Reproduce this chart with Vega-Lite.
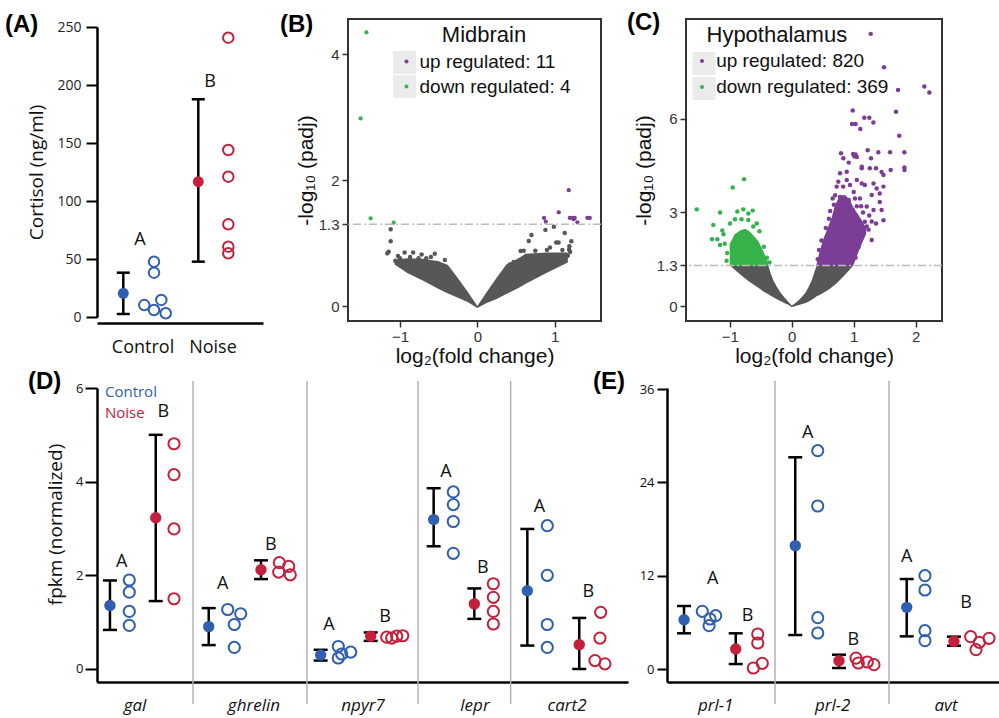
{
  "$schema": "https://vega.github.io/schema/vega-lite/v6.json",
  "background": "white",
  "padding": {"left": 5, "top": 10, "right": 0, "bottom": 0},
  "bounds": "flush",
  "spacing": 369,
  "config": {
    "view": {"stroke": null},
    "font": "Open Sans",
    "title": {"font": "Liberation Sans", "fontSize": 24, "fontWeight": "bold", "color": "#000", "anchor": "start", "frame": "group", "offset": 0, "baseline": "alphabetic"}
  },
  "datasets": {
    "a_stats": [
      {"group": "Control", "pos": 1.584, "mean": 20.4, "lo": 2.6, "hi": 38.2},
      {"group": "Noise", "pos": 6.102, "mean": 116.6, "lo": 47.7, "hi": 187.7}
    ],
    "a_samples": [
      {"group": "Control", "pos": 2.849, "val": 10.3},
      {"group": "Control", "pos": 3.434, "val": 47.7},
      {"group": "Control", "pos": 3.434, "val": 38.2},
      {"group": "Control", "pos": 3.434, "val": 6.0},
      {"group": "Control", "pos": 3.873, "val": 14.7},
      {"group": "Control", "pos": 4.139, "val": 3.2},
      {"group": "Noise", "pos": 7.91, "val": 240.8},
      {"group": "Noise", "pos": 7.91, "val": 144},
      {"group": "Noise", "pos": 7.91, "val": 121},
      {"group": "Noise", "pos": 7.91, "val": 79.9},
      {"group": "Noise", "pos": 7.91, "val": 60.6},
      {"group": "Noise", "pos": 7.91, "val": 54.9}
    ],
    "a_letters": [
      {"letter": "A", "pos": 2.59, "val": 66.4},
      {"letter": "B", "pos": 6.807, "val": 202.8}
    ],
    "thr": [{"nlp": 1.3}],
    "b_keys": [{"key": "up regulated: 11"}, {"key": "down regulated: 4"}],
    "c_keys": [{"key": "up regulated: 820"}, {"key": "down regulated: 369"}],
    "b_cloud": [
      {"lfc": -1.07, "hi": 0.74, "lo": 0.66},
      {"lfc": -0.9, "hi": 0.76, "lo": 0.52},
      {"lfc": -0.7, "hi": 0.75, "lo": 0.4},
      {"lfc": -0.5, "hi": 0.71, "lo": 0.27},
      {"lfc": -0.38, "hi": 0.65, "lo": 0.2},
      {"lfc": -0.25, "hi": 0.44, "lo": 0.13},
      {"lfc": -0.12, "hi": 0.22, "lo": 0.06},
      {"lfc": 0, "hi": 0.0, "lo": -0.03},
      {"lfc": 0.12, "hi": 0.22, "lo": 0.05},
      {"lfc": 0.25, "hi": 0.45, "lo": 0.11},
      {"lfc": 0.375, "hi": 0.66, "lo": 0.19},
      {"lfc": 0.55, "hi": 0.77, "lo": 0.3},
      {"lfc": 0.62, "hi": 0.83, "lo": 0.35},
      {"lfc": 0.9, "hi": 0.85, "lo": 0.53},
      {"lfc": 1.17, "hi": 0.85, "lo": 0.69}
    ],
    "b_ns": [
      {"lfc": -1.12, "nlp": 1.22}, {"lfc": -1.12, "nlp": 1.03}, {"lfc": -1.146, "nlp": 0.863}, {"lfc": -1.164, "nlp": 0.837},
      {"lfc": -1.026, "nlp": 0.795}, {"lfc": -0.94, "nlp": 0.85}, {"lfc": -0.83, "nlp": 0.85}, {"lfc": -0.72, "nlp": 0.82},
      {"lfc": -0.66, "nlp": 0.76}, {"lfc": -0.55, "nlp": 0.83}, {"lfc": -0.42, "nlp": 0.73}, {"lfc": -0.87, "nlp": 0.78},
      {"lfc": -0.76, "nlp": 0.76}, {"lfc": -1.0, "nlp": 0.76}, {"lfc": -0.6, "nlp": 0.78}, {"lfc": -1.06, "nlp": 0.72},
      {"lfc": 0.665, "nlp": 1.033}, {"lfc": 0.7, "nlp": 1.13}, {"lfc": 0.88, "nlp": 1.21}, {"lfc": 0.99, "nlp": 1.26},
      {"lfc": 1.13, "nlp": 1.16}, {"lfc": 1.02, "nlp": 1.01}, {"lfc": 1.05, "nlp": 1.01}, {"lfc": 1.215, "nlp": 1.03},
      {"lfc": 0.94, "nlp": 0.93}, {"lfc": 1.186, "nlp": 0.9}, {"lfc": 0.56, "nlp": 0.874}, {"lfc": 0.55, "nlp": 0.73},
      {"lfc": 1.19, "nlp": 0.95}, {"lfc": 0.6, "nlp": 0.88}, {"lfc": 0.75, "nlp": 0.88}, {"lfc": 0.9, "nlp": 0.89},
      {"lfc": 1.1, "nlp": 0.89}, {"lfc": 1.2, "nlp": 0.86}, {"lfc": 0.85, "nlp": 0.76}, {"lfc": 1.0, "nlp": 0.8},
      {"lfc": 0.47, "nlp": 0.7}, {"lfc": 0.42, "nlp": 0.66}, {"lfc": 1.17, "nlp": 0.8}, {"lfc": 1.08, "nlp": 0.74}
    ],
    "b_sig": [
      {"dir": "up regulated: 11", "lfc": 1.182, "nlp": 1.84},
      {"dir": "up regulated: 11", "lfc": 1.053, "nlp": 1.49},
      {"dir": "up regulated: 11", "lfc": 0.863, "nlp": 1.4},
      {"dir": "up regulated: 11", "lfc": 0.885, "nlp": 1.34},
      {"dir": "up regulated: 11", "lfc": 1.195, "nlp": 1.4},
      {"dir": "up regulated: 11", "lfc": 1.23, "nlp": 1.4},
      {"dir": "up regulated: 11", "lfc": 1.26, "nlp": 1.4},
      {"dir": "up regulated: 11", "lfc": 1.294, "nlp": 1.33},
      {"dir": "up regulated: 11", "lfc": 1.423, "nlp": 1.4},
      {"dir": "up regulated: 11", "lfc": 1.454, "nlp": 1.4},
      {"dir": "up regulated: 11", "lfc": 1.245, "nlp": 1.38},
      {"dir": "down regulated: 4", "lfc": -1.434, "nlp": 4.35},
      {"dir": "down regulated: 4", "lfc": -1.509, "nlp": 2.98},
      {"dir": "down regulated: 4", "lfc": -1.379, "nlp": 1.394},
      {"dir": "down regulated: 4", "lfc": -1.082, "nlp": 1.325}
    ],
    "c_cloud": [
      {"lfc": -0.995, "hi": 1.3, "lo": 1.3},
      {"lfc": -0.9, "hi": 1.3, "lo": 1.13},
      {"lfc": -0.8, "hi": 1.3, "lo": 0.96},
      {"lfc": -0.7, "hi": 1.3, "lo": 0.8},
      {"lfc": -0.55, "hi": 1.3, "lo": 0.6},
      {"lfc": -0.45, "hi": 1.3, "lo": 0.46},
      {"lfc": -0.377, "hi": 1.3, "lo": 0.38},
      {"lfc": -0.34, "hi": 1.05, "lo": 0.33},
      {"lfc": -0.297, "hi": 0.83, "lo": 0.28},
      {"lfc": -0.24, "hi": 0.62, "lo": 0.22},
      {"lfc": -0.19, "hi": 0.46, "lo": 0.17},
      {"lfc": -0.12, "hi": 0.28, "lo": 0.1},
      {"lfc": -0.055, "hi": 0.14, "lo": 0.04},
      {"lfc": 0, "hi": 0.02, "lo": -0.04},
      {"lfc": 0.06, "hi": 0.1, "lo": 0.0},
      {"lfc": 0.12, "hi": 0.2, "lo": 0.03},
      {"lfc": 0.18, "hi": 0.33, "lo": 0.07},
      {"lfc": 0.215, "hi": 0.41, "lo": 0.09},
      {"lfc": 0.27, "hi": 0.6, "lo": 0.14},
      {"lfc": 0.323, "hi": 0.83, "lo": 0.2},
      {"lfc": 0.36, "hi": 1.05, "lo": 0.25},
      {"lfc": 0.403, "hi": 1.3, "lo": 0.31},
      {"lfc": 0.457, "hi": 1.3, "lo": 0.36},
      {"lfc": 0.6, "hi": 1.3, "lo": 0.53},
      {"lfc": 0.726, "hi": 1.3, "lo": 0.73},
      {"lfc": 0.85, "hi": 1.3, "lo": 0.98},
      {"lfc": 0.994, "hi": 1.3, "lo": 1.3}
    ],
    "c_up_core": [
      {"lfc": 0.4, "hi": 1.34, "lo": 1.28},
      {"lfc": 0.45, "hi": 1.75, "lo": 1.28},
      {"lfc": 0.51, "hi": 2.15, "lo": 1.28},
      {"lfc": 0.58, "hi": 2.5, "lo": 1.28},
      {"lfc": 0.645, "hi": 2.85, "lo": 1.28},
      {"lfc": 0.7, "hi": 3.25, "lo": 1.28},
      {"lfc": 0.78, "hi": 3.55, "lo": 1.28},
      {"lfc": 0.87, "hi": 3.55, "lo": 1.28},
      {"lfc": 0.95, "hi": 3.35, "lo": 1.28},
      {"lfc": 0.994, "hi": 3.15, "lo": 1.3},
      {"lfc": 1.05, "hi": 3.0, "lo": 1.6},
      {"lfc": 1.13, "hi": 2.75, "lo": 2.0},
      {"lfc": 1.2, "hi": 2.5, "lo": 2.3}
    ],
    "c_down_core": [
      {"lfc": -1.0, "hi": 2.0, "lo": 1.28},
      {"lfc": -0.92, "hi": 2.3, "lo": 1.28},
      {"lfc": -0.834, "hi": 2.42, "lo": 1.28},
      {"lfc": -0.75, "hi": 2.48, "lo": 1.28},
      {"lfc": -0.672, "hi": 2.38, "lo": 1.28},
      {"lfc": -0.6, "hi": 2.22, "lo": 1.28},
      {"lfc": -0.538, "hi": 2.08, "lo": 1.28},
      {"lfc": -0.457, "hi": 1.76, "lo": 1.28},
      {"lfc": -0.377, "hi": 1.38, "lo": 1.28}
    ],
    "c_sig": [
      {"dir": "up regulated: 820", "lfc": 1.274, "nlp": 8.73},
      {"dir": "up regulated: 820", "lfc": 1.489, "nlp": 7.66},
      {"dir": "up regulated: 820", "lfc": 1.715, "nlp": 6.93},
      {"dir": "up regulated: 820", "lfc": 2.139, "nlp": 7.04},
      {"dir": "up regulated: 820", "lfc": 2.22, "nlp": 6.85},
      {"dir": "up regulated: 820", "lfc": 0.984, "nlp": 6.27},
      {"dir": "up regulated: 820", "lfc": 1.171, "nlp": 6.04},
      {"dir": "up regulated: 820", "lfc": 1.252, "nlp": 6.04},
      {"dir": "up regulated: 820", "lfc": 1.317, "nlp": 5.89},
      {"dir": "up regulated: 820", "lfc": 0.973, "nlp": 5.84},
      {"dir": "up regulated: 820", "lfc": 1.03, "nlp": 5.84},
      {"dir": "up regulated: 820", "lfc": 1.107, "nlp": 5.68},
      {"dir": "up regulated: 820", "lfc": 1.682, "nlp": 6.23},
      {"dir": "up regulated: 820", "lfc": 1.735, "nlp": 5.46},
      {"dir": "up regulated: 820", "lfc": 0.795, "nlp": 4.9},
      {"dir": "up regulated: 820", "lfc": 0.833, "nlp": 4.74},
      {"dir": "up regulated: 820", "lfc": 0.99, "nlp": 4.88},
      {"dir": "up regulated: 820", "lfc": 1.01, "nlp": 4.8},
      {"dir": "up regulated: 820", "lfc": 1.03, "nlp": 4.86},
      {"dir": "up regulated: 820", "lfc": 1.05, "nlp": 4.78},
      {"dir": "up regulated: 820", "lfc": 1.129, "nlp": 4.42},
      {"dir": "up regulated: 820", "lfc": 1.226, "nlp": 5.0},
      {"dir": "up regulated: 820", "lfc": 1.279, "nlp": 4.74},
      {"dir": "up regulated: 820", "lfc": 1.397, "nlp": 4.93},
      {"dir": "up regulated: 820", "lfc": 1.586, "nlp": 4.93},
      {"dir": "up regulated: 820", "lfc": 1.817, "nlp": 4.93},
      {"dir": "up regulated: 820", "lfc": 1.817, "nlp": 4.44},
      {"dir": "up regulated: 820", "lfc": 1.82, "nlp": 4.36},
      {"dir": "up regulated: 820", "lfc": 1.36, "nlp": 4.42},
      {"dir": "up regulated: 820", "lfc": 1.45, "nlp": 4.3},
      {"dir": "up regulated: 820", "lfc": 1.596, "nlp": 4.36},
      {"dir": "up regulated: 820", "lfc": 0.78, "nlp": 4.26},
      {"dir": "up regulated: 820", "lfc": 0.887, "nlp": 4.31},
      {"dir": "up regulated: 820", "lfc": 1.13, "nlp": 4.47},
      {"dir": "up regulated: 820", "lfc": 1.26, "nlp": 4.42},
      {"dir": "up regulated: 820", "lfc": 1.48, "nlp": 4.2},
      {"dir": "up regulated: 820", "lfc": 0.752, "nlp": 3.99},
      {"dir": "up regulated: 820", "lfc": 0.887, "nlp": 4.04},
      {"dir": "up regulated: 820", "lfc": 0.83, "nlp": 3.83},
      {"dir": "up regulated: 820", "lfc": 0.94, "nlp": 3.88},
      {"dir": "up regulated: 820", "lfc": 1.05, "nlp": 4.04},
      {"dir": "up regulated: 820", "lfc": 1.13, "nlp": 3.93},
      {"dir": "up regulated: 820", "lfc": 1.18, "nlp": 3.88},
      {"dir": "up regulated: 820", "lfc": 1.32, "nlp": 3.93},
      {"dir": "up regulated: 820", "lfc": 1.37, "nlp": 3.77},
      {"dir": "up regulated: 820", "lfc": 1.42, "nlp": 3.61},
      {"dir": "up regulated: 820", "lfc": 1.48, "nlp": 3.83},
      {"dir": "up regulated: 820", "lfc": 1.0, "nlp": 3.66},
      {"dir": "up regulated: 820", "lfc": 1.1, "nlp": 3.45},
      {"dir": "up regulated: 820", "lfc": 1.29, "nlp": 3.56},
      {"dir": "up regulated: 820", "lfc": 1.42, "nlp": 3.34},
      {"dir": "up regulated: 820", "lfc": 1.45, "nlp": 3.08},
      {"dir": "up regulated: 820", "lfc": 1.21, "nlp": 3.19},
      {"dir": "up regulated: 820", "lfc": 1.32, "nlp": 3.08},
      {"dir": "up regulated: 820", "lfc": 1.29, "nlp": 2.71},
      {"dir": "up regulated: 820", "lfc": 1.21, "nlp": 2.55},
      {"dir": "up regulated: 820", "lfc": 1.13, "nlp": 2.22},
      {"dir": "up regulated: 820", "lfc": 1.29, "nlp": 2.12},
      {"dir": "up regulated: 820", "lfc": 1.48, "nlp": 2.75},
      {"dir": "up regulated: 820", "lfc": 0.726, "nlp": 3.83},
      {"dir": "up regulated: 820", "lfc": 0.7, "nlp": 3.55},
      {"dir": "up regulated: 820", "lfc": 0.68, "nlp": 3.25},
      {"dir": "up regulated: 820", "lfc": 0.62, "nlp": 3.05},
      {"dir": "up regulated: 820", "lfc": 0.78, "nlp": 3.5},
      {"dir": "up regulated: 820", "lfc": 0.92, "nlp": 3.4},
      {"dir": "up regulated: 820", "lfc": 1.05, "nlp": 3.2},
      {"dir": "up regulated: 820", "lfc": 0.85, "nlp": 3.3},
      {"dir": "up regulated: 820", "lfc": 0.98, "nlp": 3.1},
      {"dir": "up regulated: 820", "lfc": 1.15, "nlp": 3.0},
      {"dir": "up regulated: 820", "lfc": 1.25, "nlp": 2.9},
      {"dir": "up regulated: 820", "lfc": 1.36, "nlp": 2.65},
      {"dir": "up regulated: 820", "lfc": 1.18, "nlp": 2.7},
      {"dir": "up regulated: 820", "lfc": 0.6, "nlp": 2.8},
      {"dir": "up regulated: 820", "lfc": 0.55, "nlp": 2.5},
      {"dir": "up regulated: 820", "lfc": 0.48, "nlp": 2.1},
      {"dir": "up regulated: 820", "lfc": 0.44, "nlp": 1.8},
      {"dir": "up regulated: 820", "lfc": 1.08, "nlp": 2.5},
      {"dir": "up regulated: 820", "lfc": 1.16, "nlp": 2.4},
      {"dir": "up regulated: 820", "lfc": 1.24, "nlp": 2.45},
      {"dir": "up regulated: 820", "lfc": 0.92, "nlp": 4.6},
      {"dir": "up regulated: 820", "lfc": 0.66, "nlp": 3.45},
      {"dir": "up regulated: 820", "lfc": 1.02, "nlp": 3.45},
      {"dir": "up regulated: 820", "lfc": 1.12, "nlp": 3.2},
      {"dir": "up regulated: 820", "lfc": 1.08, "nlp": 1.9},
      {"dir": "up regulated: 820", "lfc": 1.03, "nlp": 1.55},
      {"dir": "up regulated: 820", "lfc": 0.42, "nlp": 1.5},
      {"dir": "down regulated: 369", "lfc": -0.769, "nlp": 4.07},
      {"dir": "down regulated: 369", "lfc": -0.952, "nlp": 3.8},
      {"dir": "down regulated: 369", "lfc": -1.532, "nlp": 3.1},
      {"dir": "down regulated: 369", "lfc": -1.156, "nlp": 3.0},
      {"dir": "down regulated: 369", "lfc": -0.78, "nlp": 3.1},
      {"dir": "down regulated: 369", "lfc": -0.877, "nlp": 3.03},
      {"dir": "down regulated: 369", "lfc": -0.7, "nlp": 2.97},
      {"dir": "down regulated: 369", "lfc": -0.63, "nlp": 3.06},
      {"dir": "down regulated: 369", "lfc": -1.265, "nlp": 2.6},
      {"dir": "down regulated: 369", "lfc": -0.995, "nlp": 2.65},
      {"dir": "down regulated: 369", "lfc": -0.915, "nlp": 2.78},
      {"dir": "down regulated: 369", "lfc": -0.81, "nlp": 2.78},
      {"dir": "down regulated: 369", "lfc": -0.7, "nlp": 2.76},
      {"dir": "down regulated: 369", "lfc": -0.565, "nlp": 2.65},
      {"dir": "down regulated: 369", "lfc": -1.12, "nlp": 2.42},
      {"dir": "down regulated: 369", "lfc": -1.1, "nlp": 2.3},
      {"dir": "down regulated: 369", "lfc": -1.285, "nlp": 2.14},
      {"dir": "down regulated: 369", "lfc": -1.2, "nlp": 2.14},
      {"dir": "down regulated: 369", "lfc": -1.156, "nlp": 1.96},
      {"dir": "down regulated: 369", "lfc": -1.08, "nlp": 2.0},
      {"dir": "down regulated: 369", "lfc": -0.62, "nlp": 2.55},
      {"dir": "down regulated: 369", "lfc": -0.52, "nlp": 2.4},
      {"dir": "down regulated: 369", "lfc": -0.45, "nlp": 1.9},
      {"dir": "down regulated: 369", "lfc": -0.4, "nlp": 1.55},
      {"dir": "down regulated: 369", "lfc": -0.36, "nlp": 1.4},
      {"dir": "down regulated: 369", "lfc": -1.04, "nlp": 1.7},
      {"dir": "down regulated: 369", "lfc": -1.05, "nlp": 1.45}
    ],
    "d_stats": [
      {"gene": "gal", "group": "Control", "pos": 0.122, "mean": 1.354, "lo": 0.834, "hi": 1.89},
      {"gene": "gal", "group": "Noise", "pos": 0.553, "mean": 3.23, "lo": 1.45, "hi": 5.0},
      {"gene": "ghrelin", "group": "Control", "pos": 1.052, "mean": 0.905, "lo": 0.51, "hi": 1.3},
      {"gene": "ghrelin", "group": "Noise", "pos": 1.544, "mean": 2.12, "lo": 1.92, "hi": 2.32},
      {"gene": "npyr7", "group": "Control", "pos": 2.106, "mean": 0.3, "lo": 0.18, "hi": 0.41},
      {"gene": "npyr7", "group": "Noise", "pos": 2.577, "mean": 0.7, "lo": 0.6, "hi": 0.78},
      {"gene": "lepr", "group": "Control", "pos": 3.17, "mean": 3.19, "lo": 2.62, "hi": 3.86},
      {"gene": "lepr", "group": "Noise", "pos": 3.553, "mean": 1.39, "lo": 1.07, "hi": 1.72},
      {"gene": "cart2", "group": "Control", "pos": 4.052, "mean": 1.67, "lo": 0.5, "hi": 2.99},
      {"gene": "cart2", "group": "Noise", "pos": 4.541, "mean": 0.52, "lo": 0.0, "hi": 1.09}
    ],
    "d_samples": [
      {"gene": "gal", "group": "Control", "pos": 0.304, "val": 1.9},
      {"gene": "gal", "group": "Control", "pos": 0.304, "val": 1.64},
      {"gene": "gal", "group": "Control", "pos": 0.304, "val": 1.23},
      {"gene": "gal", "group": "Control", "pos": 0.304, "val": 0.93},
      {"gene": "gal", "group": "Noise", "pos": 0.725, "val": 4.81},
      {"gene": "gal", "group": "Noise", "pos": 0.725, "val": 4.15},
      {"gene": "gal", "group": "Noise", "pos": 0.725, "val": 2.99},
      {"gene": "gal", "group": "Noise", "pos": 0.725, "val": 1.5},
      {"gene": "ghrelin", "group": "Control", "pos": 1.231, "val": 1.27},
      {"gene": "ghrelin", "group": "Control", "pos": 1.353, "val": 1.18},
      {"gene": "ghrelin", "group": "Control", "pos": 1.293, "val": 0.95},
      {"gene": "ghrelin", "group": "Control", "pos": 1.293, "val": 0.46},
      {"gene": "ghrelin", "group": "Noise", "pos": 1.717, "val": 2.27},
      {"gene": "ghrelin", "group": "Noise", "pos": 1.805, "val": 2.19},
      {"gene": "ghrelin", "group": "Noise", "pos": 1.711, "val": 2.07},
      {"gene": "ghrelin", "group": "Noise", "pos": 1.82, "val": 2.01},
      {"gene": "npyr7", "group": "Control", "pos": 2.272, "val": 0.48},
      {"gene": "npyr7", "group": "Control", "pos": 2.389, "val": 0.36},
      {"gene": "npyr7", "group": "Control", "pos": 2.304, "val": 0.32},
      {"gene": "npyr7", "group": "Control", "pos": 2.272, "val": 0.235},
      {"gene": "npyr7", "group": "Noise", "pos": 2.728, "val": 0.68},
      {"gene": "npyr7", "group": "Noise", "pos": 2.775, "val": 0.66},
      {"gene": "npyr7", "group": "Noise", "pos": 2.822, "val": 0.7},
      {"gene": "npyr7", "group": "Noise", "pos": 2.879, "val": 0.71},
      {"gene": "lepr", "group": "Control", "pos": 3.355, "val": 3.78},
      {"gene": "lepr", "group": "Control", "pos": 3.355, "val": 3.51},
      {"gene": "lepr", "group": "Control", "pos": 3.355, "val": 3.15},
      {"gene": "lepr", "group": "Control", "pos": 3.355, "val": 2.47},
      {"gene": "lepr", "group": "Noise", "pos": 3.732, "val": 1.82},
      {"gene": "lepr", "group": "Noise", "pos": 3.732, "val": 1.53},
      {"gene": "lepr", "group": "Noise", "pos": 3.732, "val": 1.23},
      {"gene": "lepr", "group": "Noise", "pos": 3.732, "val": 0.96},
      {"gene": "cart2", "group": "Control", "pos": 4.24, "val": 3.06},
      {"gene": "cart2", "group": "Control", "pos": 4.24, "val": 2.0},
      {"gene": "cart2", "group": "Control", "pos": 4.24, "val": 0.95},
      {"gene": "cart2", "group": "Control", "pos": 4.24, "val": 0.46},
      {"gene": "cart2", "group": "Noise", "pos": 4.743, "val": 1.21},
      {"gene": "cart2", "group": "Noise", "pos": 4.736, "val": 0.66},
      {"gene": "cart2", "group": "Noise", "pos": 4.689, "val": 0.18},
      {"gene": "cart2", "group": "Noise", "pos": 4.783, "val": 0.11}
    ],
    "d_letters": [
      {"gene": "gal", "letter": "A", "pos": 0.233, "val": 2.28},
      {"gene": "gal", "letter": "B", "pos": 0.624, "val": 5.49},
      {"gene": "ghrelin", "letter": "A", "pos": 1.184, "val": 1.82},
      {"gene": "ghrelin", "letter": "B", "pos": 1.636, "val": 2.64},
      {"gene": "npyr7", "letter": "A", "pos": 2.185, "val": 0.93},
      {"gene": "npyr7", "letter": "B", "pos": 2.712, "val": 1.1},
      {"gene": "lepr", "letter": "A", "pos": 3.286, "val": 4.2},
      {"gene": "lepr", "letter": "B", "pos": 3.632, "val": 2.16},
      {"gene": "cart2", "letter": "A", "pos": 4.165, "val": 3.46},
      {"gene": "cart2", "letter": "B", "pos": 4.626, "val": 1.64}
    ],
    "d_genes": [
      {"gene": "gal", "pos": 0.358},
      {"gene": "ghrelin", "pos": 1.478},
      {"gene": "npyr7", "pos": 2.505},
      {"gene": "lepr", "pos": 3.559},
      {"gene": "cart2", "pos": 4.426}
    ],
    "d_sep": [{"pos": 0.904}, {"pos": 1.977}, {"pos": 3.023}, {"pos": 3.895}],
    "d_key": [
      {"group": "Control", "pos": 0.075, "val": 5.915},
      {"group": "Noise", "pos": 0.075, "val": 5.466}
    ],
    "e_stats": [
      {"gene": "prl-1", "group": "Control", "pos": 0.154, "mean": 6.34, "lo": 4.59, "hi": 8.1},
      {"gene": "prl-1", "group": "Noise", "pos": 0.621, "mean": 2.57, "lo": 0.64, "hi": 4.59},
      {"gene": "prl-2", "group": "Control", "pos": 1.159, "mean": 15.86, "lo": 4.37, "hi": 27.22},
      {"gene": "prl-2", "group": "Noise", "pos": 1.554, "mean": 1.07, "lo": 0.13, "hi": 1.84},
      {"gene": "avt", "group": "Control", "pos": 2.166, "mean": 7.93, "lo": 4.2, "hi": 11.57},
      {"gene": "avt", "group": "Noise", "pos": 2.593, "mean": 3.56, "lo": 3.0, "hi": 4.16}
    ],
    "e_samples": [
      {"gene": "prl-1", "group": "Control", "pos": 0.319, "val": 7.42},
      {"gene": "prl-1", "group": "Control", "pos": 0.44, "val": 6.86},
      {"gene": "prl-1", "group": "Control", "pos": 0.389, "val": 6.43},
      {"gene": "prl-1", "group": "Control", "pos": 0.38, "val": 5.57},
      {"gene": "prl-1", "group": "Noise", "pos": 0.82, "val": 4.5},
      {"gene": "prl-1", "group": "Noise", "pos": 0.82, "val": 3.34},
      {"gene": "prl-1", "group": "Noise", "pos": 0.861, "val": 0.73},
      {"gene": "prl-1", "group": "Noise", "pos": 0.78, "val": 0.13},
      {"gene": "prl-2", "group": "Control", "pos": 1.362, "val": 28.07},
      {"gene": "prl-2", "group": "Control", "pos": 1.362, "val": 20.96},
      {"gene": "prl-2", "group": "Control", "pos": 1.362, "val": 6.6},
      {"gene": "prl-2", "group": "Control", "pos": 1.362, "val": 4.63},
      {"gene": "prl-2", "group": "Noise", "pos": 1.708, "val": 1.41},
      {"gene": "prl-2", "group": "Noise", "pos": 1.729, "val": 0.77},
      {"gene": "prl-2", "group": "Noise", "pos": 1.81, "val": 0.9},
      {"gene": "prl-2", "group": "Noise", "pos": 1.87, "val": 0.56},
      {"gene": "avt", "group": "Control", "pos": 2.331, "val": 12.0},
      {"gene": "avt", "group": "Control", "pos": 2.331, "val": 10.16},
      {"gene": "avt", "group": "Control", "pos": 2.331, "val": 4.93},
      {"gene": "avt", "group": "Control", "pos": 2.331, "val": 3.64},
      {"gene": "avt", "group": "Noise", "pos": 2.744, "val": 4.16},
      {"gene": "avt", "group": "Noise", "pos": 2.822, "val": 3.43},
      {"gene": "avt", "group": "Noise", "pos": 2.91, "val": 3.94},
      {"gene": "avt", "group": "Noise", "pos": 2.792, "val": 2.49}
    ],
    "e_letters": [
      {"gene": "prl-1", "letter": "A", "pos": 0.413, "val": 11.57},
      {"gene": "prl-1", "letter": "B", "pos": 0.729, "val": 6.86},
      {"gene": "prl-2", "letter": "A", "pos": 1.271, "val": 30.4},
      {"gene": "prl-2", "letter": "B", "pos": 1.683, "val": 3.73},
      {"gene": "avt", "letter": "A", "pos": 2.166, "val": 14.36},
      {"gene": "avt", "letter": "B", "pos": 2.702, "val": 8.44}
    ],
    "e_genes": [
      {"gene": "prl-1", "pos": 0.44},
      {"gene": "prl-2", "pos": 1.497},
      {"gene": "avt", "pos": 2.521}
    ],
    "e_sep": [{"pos": 0.976}, {"pos": 2.006}]
  },
  "vconcat": [
    {
      "hconcat": [
        {
          "width": 166, "height": 304,
          "title": {"text": "(A)", "dx": -92, "dy": 22},
          "layer": [
            {
              "data": {"name": "a_stats"},
              "mark": {"type": "rule", "color": "black", "strokeWidth": 2.5},
              "encoding": {
                "x": {"field": "pos", "type": "quantitative", "scale": {"domain": [0, 10], "nice": false, "zero": false},
                      "axis": {"values": [2.741, 6.958], "labelExpr": "datum.value < 5 ? 'Control' : 'Noise'", "ticks": false, "grid": false, "domainColor": "black", "domainWidth": 2.5, "labelFont": "Open Sans", "labelFontSize": 18, "labelColor": "#111", "labelPadding": 15, "title": null}},
                "y": {"field": "lo", "type": "quantitative", "scale": {"domain": [0, 250], "range": [298, 8], "nice": false, "zero": false},
                      "axis": {"values": [0, 50, 100, 150, 200, 250], "tickSize": 11, "tickWidth": 2, "tickColor": "black", "domainColor": "black", "domainWidth": 2.5, "labelFont": "Open Sans", "labelFontSize": 14, "labelColor": "#222", "labelPadding": 5, "grid": false, "title": "Cortisol (ng/ml)", "titleFont": "Open Sans", "titleFontSize": 19, "titleFontWeight": "normal", "titleColor": "#111", "titlePadding": 10}},
                "y2": {"field": "hi"}
              }
            },
            {
              "data": {"name": "a_stats"},
              "mark": {"type": "tick", "orient": "horizontal", "size": 13, "thickness": 2.5, "color": "black", "opacity": 1},
              "encoding": {"x": {"field": "pos", "type": "quantitative"}, "y": {"field": "lo", "type": "quantitative"}}
            },
            {
              "data": {"name": "a_stats"},
              "mark": {"type": "tick", "orient": "horizontal", "size": 13, "thickness": 2.5, "color": "black", "opacity": 1},
              "encoding": {"x": {"field": "pos", "type": "quantitative"}, "y": {"field": "hi", "type": "quantitative"}}
            },
            {
              "data": {"name": "a_stats"},
              "mark": {"type": "point", "shape": "circle", "filled": true, "opacity": 1, "size": 120},
              "encoding": {
                "x": {"field": "pos", "type": "quantitative"},
                "y": {"field": "mean", "type": "quantitative"},
                "color": {"field": "group", "type": "nominal", "scale": {"domain": ["Control", "Noise"], "range": ["#2f5fae", "#c4203c"]}, "legend": null}
              }
            },
            {
              "data": {"name": "a_samples"},
              "mark": {"type": "point", "shape": "circle", "filled": false, "opacity": 1, "strokeWidth": 2, "size": 110},
              "encoding": {
                "x": {"field": "pos", "type": "quantitative"},
                "y": {"field": "val", "type": "quantitative"},
                "color": {"field": "group", "type": "nominal", "legend": null}
              }
            },
            {
              "data": {"name": "a_letters"},
              "mark": {"type": "text", "fontSize": 18, "font": "Open Sans", "color": "#111", "baseline": "middle"},
              "encoding": {
                "x": {"field": "pos", "type": "quantitative"},
                "y": {"field": "val", "type": "quantitative"},
                "text": {"field": "letter"}
              }
            }
          ]
        },
        {
          "width": 253, "height": 302,
          "view": {"stroke": "#333", "strokeWidth": 2},
          "title": {"text": "(B)", "dx": -68, "dy": 22},
          "layer": [
            {
              "data": {"name": "b_cloud"},
              "mark": {"type": "area", "color": "#575757", "opacity": 1},
              "encoding": {
                "x": {"field": "lfc", "type": "quantitative", "scale": {"domain": [-1.672, 1.599], "nice": false, "zero": false},
                      "axis": {"values": [-1, 0, 1], "format": "~g", "domain": false, "grid": false, "tickSize": 6, "tickWidth": 1.5, "tickColor": "#333", "labelFont": "Liberation Sans", "labelFontSize": 15, "labelColor": "#333", "labelPadding": 2, "title": "log₂(fold change)", "titleFont": "Liberation Sans", "titleFontSize": 21, "titleFontWeight": "normal", "titleColor": "#111", "titlePadding": 1}},
                "y": {"field": "hi", "type": "quantitative", "stack": null, "scale": {"domain": [-0.238, 4.561], "nice": false, "zero": false},
                      "axis": {"values": [0, 1.3, 2, 4], "labelExpr": "format(datum.value, '~g')", "domain": false, "grid": false, "tickSize": 6, "tickWidth": 1.5, "tickColor": "#333", "labelFont": "Liberation Sans", "labelFontSize": 15, "labelColor": "#333", "labelPadding": 3, "title": "-log₁₀ (padj)", "titleFont": "Liberation Sans", "titleFontSize": 21, "titleFontWeight": "normal", "titleColor": "#111", "titlePadding": 2}},
                "y2": {"field": "lo"}
              }
            },
            {
              "data": {"name": "b_ns"},
              "mark": {"type": "circle", "color": "#575757", "size": 20, "opacity": 1},
              "encoding": {"x": {"field": "lfc", "type": "quantitative"}, "y": {"field": "nlp", "type": "quantitative"}}
            },
            {
              "data": {"name": "b_keys"},
              "mark": {"type": "point", "filled": true, "color": "#ebebeb", "opacity": 0},
              "encoding": {
                "shape": {"field": "key", "type": "nominal", "sort": ["up regulated: 11", "down regulated: 4"], "scale": {"range": ["square", "square"]},
                  "legend": {"orient": "none", "legendX": 45, "legendY": 32, "zindex": 0, "title": null, "labelExpr": "''", "labelFontSize": 19, "labelOffset": 3.5, "rowPadding": 1, "symbolType": "square", "symbolSize": 529, "symbolFillColor": "#ebebeb", "symbolOpacity": 1, "symbolStrokeWidth": 0, "padding": 0}}
              }
            },
            {
              "data": {"name": "b_sig"},
              "mark": {"type": "circle", "size": 18, "opacity": 1},
              "encoding": {
                "x": {"field": "lfc", "type": "quantitative"},
                "y": {"field": "nlp", "type": "quantitative"},
                "color": {"field": "dir", "type": "nominal",
                  "scale": {"domain": ["up regulated: 11", "down regulated: 4"], "range": ["#7b3d96", "#36b24a"]},
                  "legend": {"orient": "none", "legendX": 49, "legendY": 6, "zindex": 1, "title": "Midbrain", "titleFont": "Liberation Sans", "titleFontSize": 22, "titleFontWeight": "normal", "titleColor": "#111", "titleAnchor": "middle", "titlePadding": 5, "labelFont": "Liberation Sans", "labelFontSize": 19, "labelColor": "#111", "labelLimit": 400, "labelOffset": 3.5, "rowPadding": 5, "symbolType": "circle", "symbolSize": 16, "symbolStrokeWidth": 0, "padding": 0}}
              }
            },
            {
              "data": {"name": "thr"},
              "mark": {"type": "rule", "color": "#bdbdbd", "strokeWidth": 1.5, "strokeDash": [8, 3, 2, 3]},
              "encoding": {"y": {"field": "nlp", "type": "quantitative"}}
            }
          ]
        },
        {
          "width": 256, "height": 302,
          "view": {"stroke": "#333", "strokeWidth": 2},
          "title": {"text": "(C)", "dx": -59, "dy": 20},
          "layer": [
            {
              "data": {"name": "c_cloud"},
              "mark": {"type": "area", "color": "#575757", "opacity": 1},
              "encoding": {
                "x": {"field": "lfc", "type": "quantitative", "scale": {"domain": [-1.705, 2.424], "nice": false, "zero": false},
                      "axis": {"values": [-1, 0, 1, 2], "format": "~g", "domain": false, "grid": false, "tickSize": 6, "tickWidth": 1.5, "tickColor": "#333", "labelFont": "Liberation Sans", "labelFontSize": 15, "labelColor": "#333", "labelPadding": 2, "title": "log₂(fold change)", "titleFont": "Liberation Sans", "titleFontSize": 21, "titleFontWeight": "normal", "titleColor": "#111", "titlePadding": 1}},
                "y": {"field": "hi", "type": "quantitative", "stack": null, "scale": {"domain": [-0.481, 9.207], "nice": false, "zero": false},
                      "axis": {"values": [0, 1.3, 3, 6], "labelExpr": "format(datum.value, '~g')", "domain": false, "grid": false, "tickSize": 6, "tickWidth": 1.5, "tickColor": "#333", "labelFont": "Liberation Sans", "labelFontSize": 15, "labelColor": "#333", "labelPadding": 3, "title": "-log₁₀ (padj)", "titleFont": "Liberation Sans", "titleFontSize": 21, "titleFontWeight": "normal", "titleColor": "#111", "titlePadding": 2}},
                "y2": {"field": "lo"}
              }
            },
            {
              "data": {"name": "c_up_core"},
              "mark": {"type": "area", "color": "#7b3d96", "opacity": 1},
              "encoding": {"x": {"field": "lfc", "type": "quantitative"}, "y": {"field": "hi", "type": "quantitative", "stack": null}, "y2": {"field": "lo"}}
            },
            {
              "data": {"name": "c_down_core"},
              "mark": {"type": "area", "color": "#36b24a", "opacity": 1},
              "encoding": {"x": {"field": "lfc", "type": "quantitative"}, "y": {"field": "hi", "type": "quantitative", "stack": null}, "y2": {"field": "lo"}}
            },
            {
              "data": {"name": "c_keys"},
              "mark": {"type": "point", "filled": true, "color": "#ebebeb", "opacity": 0},
              "encoding": {
                "shape": {"field": "key", "type": "nominal", "sort": ["up regulated: 820", "down regulated: 369"], "scale": {"range": ["square", "square"]},
                  "legend": {"orient": "none", "legendX": 6.5, "legendY": 6, "zindex": 0, "title": "Hypothalamus", "titleFont": "Liberation Sans", "titleFontSize": 22, "titleFontWeight": "normal", "titleColor": "#111", "titleAnchor": "middle", "titleAlign": "left", "titlePadding": 5, "labelExpr": "''", "labelFontSize": 19, "labelOffset": 4.7, "rowPadding": 2, "symbolType": "square", "symbolSize": 529, "symbolFillColor": "#ebebeb", "symbolOpacity": 1, "symbolStrokeWidth": 0, "padding": 0}}
              }
            },
            {
              "data": {"name": "c_sig"},
              "mark": {"type": "circle", "size": 20, "opacity": 1},
              "encoding": {
                "x": {"field": "lfc", "type": "quantitative"},
                "y": {"field": "nlp", "type": "quantitative"},
                "color": {"field": "dir", "type": "nominal",
                  "scale": {"domain": ["up regulated: 820", "down regulated: 369"], "range": ["#7b3d96", "#36b24a"]},
                  "legend": {"orient": "none", "legendX": 6.5, "legendY": 32.5, "zindex": 1, "title": null, "labelFont": "Liberation Sans", "labelFontSize": 19, "labelColor": "#111", "labelLimit": 400, "labelOffset": 4.7, "rowPadding": 6, "symbolType": "circle", "symbolSize": 16, "symbolStrokeWidth": 0, "padding": 0}}
              }
            },
            {
              "data": {"name": "thr"},
              "mark": {"type": "rule", "color": "#bdbdbd", "strokeWidth": 1.5, "strokeDash": [8, 3, 2, 3]},
              "encoding": {"y": {"field": "nlp", "type": "quantitative"}}
            }
          ]
        }
      ],
      "spacing": 85,
      "bounds": "flush",
      "resolve": {"scale": {"color": "independent", "shape": "independent", "x": "independent", "y": "independent"}}
    },
    {
      "hconcat": [
        {
          "width": 531, "height": 294,
          "title": {"text": "(D)", "dx": -69, "dy": 18},
          "layer": [
            {
              "data": {"name": "d_sep"},
              "mark": {"type": "rule", "color": "#b3b3b3", "strokeWidth": 1.5},
              "encoding": {
                "x": {"field": "pos", "type": "quantitative", "scale": {"domain": [0, 5], "nice": false, "zero": false},
                      "axis": {"labels": false, "ticks": false, "grid": false, "title": null, "domainColor": "black", "domainWidth": 2.5}},
                "y": {"datum": 6.15, "type": "quantitative", "scale": {"domain": [-0.278, 6], "nice": false, "zero": false},
                      "axis": {"values": [0, 2, 4, 6], "tickSize": 12, "tickWidth": 2, "tickColor": "black", "domainColor": "black", "domainWidth": 2.5, "labelFont": "Open Sans", "labelFontSize": 13, "labelColor": "#111", "labelPadding": 2, "grid": false, "title": "fpkm (normalized)", "titleFont": "Open Sans", "titleFontSize": 19, "titleFontWeight": "normal", "titleColor": "#111", "titlePadding": 10, "titleY": 136}},
                "y2": {"datum": -0.748}
              }
            },
            {
              "data": {"name": "d_stats"},
              "mark": {"type": "rule", "color": "black", "strokeWidth": 2.5},
              "encoding": {"x": {"field": "pos", "type": "quantitative"}, "y": {"field": "lo", "type": "quantitative"}, "y2": {"field": "hi"}}
            },
            {
              "data": {"name": "d_stats"},
              "mark": {"type": "tick", "orient": "horizontal", "size": 14, "thickness": 2.5, "color": "black", "opacity": 1},
              "encoding": {"x": {"field": "pos", "type": "quantitative"}, "y": {"field": "lo", "type": "quantitative"}}
            },
            {
              "data": {"name": "d_stats"},
              "mark": {"type": "tick", "orient": "horizontal", "size": 14, "thickness": 2.5, "color": "black", "opacity": 1},
              "encoding": {"x": {"field": "pos", "type": "quantitative"}, "y": {"field": "hi", "type": "quantitative"}}
            },
            {
              "data": {"name": "d_stats"},
              "mark": {"type": "point", "shape": "circle", "filled": true, "opacity": 1, "size": 130},
              "encoding": {
                "x": {"field": "pos", "type": "quantitative"},
                "y": {"field": "mean", "type": "quantitative"},
                "color": {"field": "group", "type": "nominal", "scale": {"domain": ["Control", "Noise"], "range": ["#2f5fae", "#c4203c"]}, "legend": null}
              }
            },
            {
              "data": {"name": "d_samples"},
              "mark": {"type": "point", "shape": "circle", "filled": false, "opacity": 1, "strokeWidth": 2, "size": 125},
              "encoding": {
                "x": {"field": "pos", "type": "quantitative"},
                "y": {"field": "val", "type": "quantitative"},
                "color": {"field": "group", "type": "nominal", "legend": null}
              }
            },
            {
              "data": {"name": "d_letters"},
              "mark": {"type": "text", "fontSize": 18, "font": "Open Sans", "color": "#111", "baseline": "middle"},
              "encoding": {"x": {"field": "pos", "type": "quantitative"}, "y": {"field": "val", "type": "quantitative"}, "text": {"field": "letter"}}
            },
            {
              "data": {"name": "d_genes"},
              "mark": {"type": "text", "fontSize": 17, "font": "Open Sans", "fontStyle": "italic", "color": "#111", "baseline": "middle"},
              "encoding": {"x": {"field": "pos", "type": "quantitative"}, "y": {"datum": -0.79, "type": "quantitative"}, "text": {"field": "gene"}}
            },
            {
              "data": {"name": "d_key"},
              "mark": {"type": "text", "fontSize": 15, "font": "Open Sans", "align": "left", "baseline": "middle"},
              "encoding": {
                "x": {"field": "pos", "type": "quantitative"},
                "y": {"field": "val", "type": "quantitative"},
                "text": {"field": "group"},
                "color": {"field": "group", "type": "nominal", "legend": null}
              }
            }
          ]
        },
        {
          "width": 332, "height": 294,
          "title": {"text": "(E)", "dx": -74, "dy": 18},
          "layer": [
            {
              "data": {"name": "e_sep"},
              "mark": {"type": "rule", "color": "#b3b3b3", "strokeWidth": 1.5},
              "encoding": {
                "x": {"field": "pos", "type": "quantitative", "scale": {"domain": [0, 3], "nice": false, "zero": false},
                      "axis": {"labels": false, "ticks": false, "grid": false, "title": null, "domainColor": "black", "domainWidth": 2.5}},
                "y": {"datum": 37.06, "type": "quantitative", "scale": {"domain": [-1.67, 36.13], "nice": false, "zero": false},
                      "axis": {"values": [0, 12, 24, 36], "tickSize": 10, "tickWidth": 2, "tickColor": "black", "domainColor": "black", "domainWidth": 2.5, "labelFont": "Open Sans", "labelFontSize": 13, "labelColor": "#111", "labelPadding": 3, "grid": false, "title": null}},
                "y2": {"datum": -4.5}
              }
            },
            {
              "data": {"name": "e_stats"},
              "mark": {"type": "rule", "color": "black", "strokeWidth": 2.5},
              "encoding": {"x": {"field": "pos", "type": "quantitative"}, "y": {"field": "lo", "type": "quantitative"}, "y2": {"field": "hi"}}
            },
            {
              "data": {"name": "e_stats"},
              "mark": {"type": "tick", "orient": "horizontal", "size": 14, "thickness": 2.5, "color": "black", "opacity": 1},
              "encoding": {"x": {"field": "pos", "type": "quantitative"}, "y": {"field": "lo", "type": "quantitative"}}
            },
            {
              "data": {"name": "e_stats"},
              "mark": {"type": "tick", "orient": "horizontal", "size": 14, "thickness": 2.5, "color": "black", "opacity": 1},
              "encoding": {"x": {"field": "pos", "type": "quantitative"}, "y": {"field": "hi", "type": "quantitative"}}
            },
            {
              "data": {"name": "e_stats"},
              "mark": {"type": "point", "shape": "circle", "filled": true, "opacity": 1, "size": 130},
              "encoding": {
                "x": {"field": "pos", "type": "quantitative"},
                "y": {"field": "mean", "type": "quantitative"},
                "color": {"field": "group", "type": "nominal", "scale": {"domain": ["Control", "Noise"], "range": ["#2f5fae", "#c4203c"]}, "legend": null}
              }
            },
            {
              "data": {"name": "e_samples"},
              "mark": {"type": "point", "shape": "circle", "filled": false, "opacity": 1, "strokeWidth": 2, "size": 125},
              "encoding": {
                "x": {"field": "pos", "type": "quantitative"},
                "y": {"field": "val", "type": "quantitative"},
                "color": {"field": "group", "type": "nominal", "legend": null}
              }
            },
            {
              "data": {"name": "e_letters"},
              "mark": {"type": "text", "fontSize": 18, "font": "Open Sans", "color": "#111", "baseline": "middle"},
              "encoding": {"x": {"field": "pos", "type": "quantitative"}, "y": {"field": "val", "type": "quantitative"}, "text": {"field": "letter"}}
            },
            {
              "data": {"name": "e_genes"},
              "mark": {"type": "text", "fontSize": 17, "font": "Open Sans", "fontStyle": "italic", "color": "#111", "baseline": "middle"},
              "encoding": {"x": {"field": "pos", "type": "quantitative"}, "y": {"datum": -4.76, "type": "quantitative"}, "text": {"field": "gene"}}
            }
          ]
        }
      ],
      "spacing": 39,
      "bounds": "flush",
      "resolve": {"scale": {"color": "independent", "x": "independent", "y": "independent"}}
    }
  ],
  "resolve": {"scale": {"color": "independent", "shape": "independent", "x": "independent", "y": "independent"}}
}
